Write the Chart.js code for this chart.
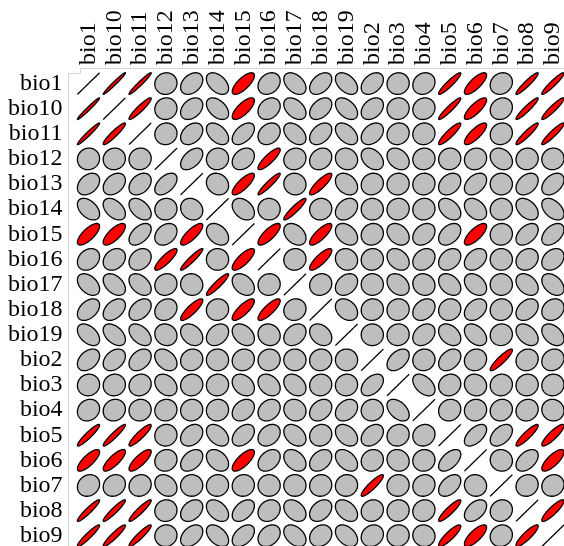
<!DOCTYPE html>
<html>
<head>
<meta charset="utf-8">
<script src="https://cdn.jsdelivr.net/npm/chart.js@4.4.0/dist/chart.umd.min.js"></script>
<style>
  html, body { margin: 0; padding: 0; background: #fff; }
  #wrap { width: 564px; height: 546px; position: relative; }
</style>
</head>
<body>
<div id="wrap"><canvas id="corrChart"></canvas></div>
<script>
// variables in plot order (rows top->bottom, columns left->right)
const vars = ['bio1', 'bio10', 'bio11', 'bio12', 'bio13', 'bio14', 'bio15', 'bio16', 'bio17',
              'bio18', 'bio19', 'bio2', 'bio3', 'bio4', 'bio5', 'bio6', 'bio7', 'bio8', 'bio9'];

// upper triangle: correlation of each variable with the ones after it
const corBio1  = [0.98, 0.97, 0.05, 0.35, -0.45, 0.74, 0.25, -0.42, 0.42, -0.45, 0.38, 0.05, 0.15, 0.93, 0.78, 0.15, 0.94, 0.94];
const corBio10 = [0.93, 0.05, 0.35, -0.45, 0.74, 0.25, -0.42, 0.42, -0.45, 0.35, 0.05, 0.10, 0.94, 0.80, 0.15, 0.94, 0.93];
const corBio11 = [0.05, 0.35, -0.45, 0.50, 0.25, -0.42, 0.40, -0.45, 0.35, 0.10, 0.05, 0.90, 0.80, 0.10, 0.93, 0.93];
const corBio12 = [0.50, 0.05, 0.30, 0.85, 0.10, 0.20, -0.10, -0.35, -0.30, 0.05, 0.05, 0.10, -0.25, 0.05, 0.05];
const corBio13 = [-0.15, 0.80, 0.94, -0.05, 0.85, -0.30, 0.10, 0.05, 0.05, 0.30, 0.40, 0.00, 0.35, 0.40];
const corBio14 = [-0.35, 0.00, 0.92, 0.05, 0.30, 0.00, 0.05, 0.05, -0.40, -0.35, 0.05, -0.40, -0.45];
const corBio15 = [0.78, -0.35, 0.80, -0.35, 0.10, -0.30, 0.30, 0.40, 0.74, 0.05, 0.45, 0.45];
const corBio16 = [0.05, 0.82, -0.10, 0.05, -0.30, 0.25, 0.30, 0.35, 0.00, 0.20, 0.30];
const corBio17 = [0.10, 0.30, 0.00, -0.30, -0.10, -0.35, -0.35, 0.00, -0.35, -0.40];
const corBio18 = [-0.30, 0.05, 0.05, 0.30, 0.10, 0.35, 0.05, 0.35, 0.20];
const corBio19 = [0.00, 0.05, 0.30, -0.35, -0.40, 0.05, -0.40, -0.40];
const corBio2  = [0.45, 0.05, 0.35, 0.10, 0.90, 0.10, 0.15];
const corBio3  = [-0.45, 0.10, -0.10, 0.05, 0.05, 0.05];
const corBio4  = [0.10, 0.05, 0.10, 0.10, -0.05];
const corBio5  = [0.55, 0.45, 0.90, 0.87];
const corBio6  = [-0.05, 0.45, 0.76];
const corBio7  = [0.10, 0.10];
const corBio8  = [0.88];

const upperRows = [corBio1, corBio10, corBio11, corBio12, corBio13, corBio14, corBio15, corBio16, corBio17,
                   corBio18, corBio19, corBio2, corBio3, corBio4, corBio5, corBio6, corBio7, corBio8];
const redCut = 0.7; // ellipses above this are filled red

// full symmetric matrix
const n = vars.length;
const corr = [];
for (let i = 0; i < n; i++) corr.push(new Array(n).fill(1));
upperRows.forEach((row, i) => {
    row.forEach((v, k) => {
        const j = i + 1 + k;
        corr[i][j] = v;
        corr[j][i] = v;
    });
});

const cells = [];
for (let i = 0; i < n; i++) {
    for (let j = 0; j < n; j++) {
        cells.push({ x: j, y: i, v: corr[i][j] });
    }
}

// faint frame round the plot
const framePlugin = {
    id: 'frame',
    beforeDraw(chart) {
        const ctx = chart.ctx;
        ctx.save();
        ctx.strokeStyle = '#d4d4d4';
        ctx.lineWidth = 1;
        ctx.beginPath();
        ctx.moveTo(68.5, 546);
        ctx.lineTo(68.5, 73.5);
        ctx.lineTo(80.5, 73.5);
        ctx.lineTo(80.5, 68.5);
        ctx.lineTo(564, 68.5);
        ctx.stroke();
        ctx.restore();
    }
};

// draw an ellipse per cell, like ellipse::plotcorr
const ellipsePlugin = {
    id: 'ellipses',
    afterDatasetsDraw(chart) {
        const ctx = chart.ctx;
        const xs = chart.scales.x, ys = chart.scales.y;
        const sx = Math.abs(xs.getPixelForValue(1) - xs.getPixelForValue(0));
        const sy = Math.abs(ys.getPixelForValue(1) - ys.getPixelForValue(0));
        const meta = chart.getDatasetMeta(0);
        ctx.save();
        meta.data.forEach((pt, k) => {
            const r = cells[k].v;
            const d = Math.acos(Math.max(-1, Math.min(1, r)));
            ctx.beginPath();
            for (let s = 0; s <= 100; s++) {
                const a = 2 * Math.PI * s / 100;
                const px = pt.x + 0.43 * sx * Math.cos(a + d / 2);
                const py = pt.y - 0.43 * sy * Math.cos(a - d / 2);
                if (s === 0) ctx.moveTo(px, py); else ctx.lineTo(px, py);
            }
            ctx.closePath();
            ctx.fillStyle = r > redCut ? '#ff0000' : '#bebebe';
            ctx.fill();
            ctx.lineWidth = 1.3;
            ctx.strokeStyle = '#000';
            ctx.stroke();
        });
        ctx.restore();
    }
};

const labelFont = { family: '"Liberation Serif", "Times New Roman", serif', size: 24, lineHeight: 1.2 };

new Chart(document.getElementById('corrChart'), {
    type: 'scatter',
    data: {
        datasets: [{
            data: cells,
            pointRadius: 0,
            pointHoverRadius: 0
        }]
    },
    options: {
        responsive: true,
        maintainAspectRatio: false,
        animation: false,
        layout: { padding: 0 },
        plugins: {
            legend: { display: false },
            tooltip: { enabled: false }
        },
        scales: {
            x: {
                type: 'linear',
                position: 'top',
                min: -0.5,
                max: 18.43,
                grid: { display: false, drawTicks: false },
                border: { display: false },
                afterBuildTicks: s => { s.ticks = vars.map((_, i) => ({ value: i })); },
                afterFit: s => { s.height = 71; s.paddingLeft = 0; s.paddingRight = 0; },
                ticks: {
                    autoSkip: false,
                    minRotation: 90,
                    maxRotation: 90,
                    padding: 6,
                    labelOffset: 28.8, // undo the line-height shift of rotated labels
                    color: '#000',
                    font: labelFont,
                    callback: v => vars[v]
                }
            },
            y: {
                type: 'linear',
                reverse: true,
                min: -0.5,
                max: 18.41,
                grid: { display: false, drawTicks: false },
                border: { display: false },
                afterBuildTicks: s => { s.ticks = vars.map((_, i) => ({ value: i })); },
                afterFit: s => { s.width = 75.6; s.paddingTop = 0; s.paddingBottom = 0; },
                ticks: {
                    autoSkip: false,
                    padding: 13,
                    color: '#000',
                    font: labelFont,
                    callback: v => vars[v]
                }
            }
        }
    },
    plugins: [framePlugin, ellipsePlugin]
});
</script>
</body>
</html>
